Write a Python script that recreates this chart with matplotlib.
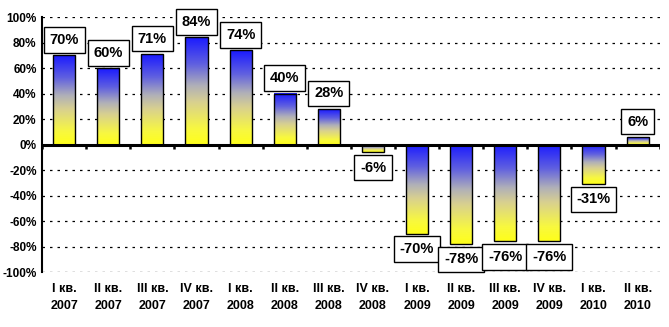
import numpy as np
import matplotlib.pyplot as plt
from matplotlib.colors import LinearSegmentedColormap

plt.rcParams['font.family'] = ['Liberation Sans', 'DejaVu Sans']

# quarterly change, %
quarters = ["I кв.", "II кв.", "III кв.", "IV кв.",
            "I кв.", "II кв.", "III кв.", "IV кв.",
            "I кв.", "II кв.", "III кв.", "IV кв.",
            "I кв.", "II кв."]
years = ["2007", "2007", "2007", "2007",
         "2008", "2008", "2008", "2008",
         "2009", "2009", "2009", "2009",
         "2010", "2010"]
values = [70, 60, 71, 84, 74, 40, 28, -6, -70, -78, -76, -76, -31, 6]
yticks = [-100, -80, -60, -40, -20, 0, 20, 40, 60, 80, 100]

# yellow at the bottom, blue at the top of every bar
grad = LinearSegmentedColormap.from_list(
    "yb", [(0.0, "#ffff1a"), (0.15, "#f8f840"), (0.4, "#d8d090"),
           (0.55, "#b0b0b8"), (0.75, "#6060e0"), (1.0, "#1a1aff")])

fig = plt.figure(figsize=(6.69, 3.27), dpi=100)
ax = fig.add_axes([0.063, 0.168, 0.923, 0.78])

x = np.arange(len(values))
bw = 0.5
ramp = np.linspace(0, 1, 256).reshape(-1, 1)
box = dict(boxstyle="square,pad=0.4", fc="white", ec="black", lw=1)

for xi, v in zip(x, values):
    lo, hi = min(0, v), max(0, v)
    ax.imshow(ramp, cmap=grad, origin="lower", aspect="auto",
              extent=[xi - bw / 2, xi + bw / 2, lo, hi], zorder=2)
    ax.add_patch(plt.Rectangle((xi - bw / 2, lo), bw, hi - lo,
                               fill=False, edgecolor="black", lw=1, zorder=3))
    if v >= 0:
        ax.annotate(f"{v}%", (xi, v), xytext=(0, 6), textcoords="offset points",
                    ha="center", va="bottom", fontsize=10.5, fontweight="bold",
                    bbox=box, zorder=5)
    else:
        ax.annotate(f"{v}%", (xi, v), xytext=(0, -6), textcoords="offset points",
                    ha="center", va="top", fontsize=10.5, fontweight="bold",
                    bbox=box, zorder=5)

ax.set_xlim(-0.5, len(values) - 0.5)
ax.set_ylim(-100, 100)

# dotted grid
for yv in yticks:
    if yv != 0:
        ax.axhline(yv, color="black", lw=0.9, ls=(0, (2, 4)), zorder=1)

# zero line with category ticks
ax.axhline(0, color="black", lw=2.2, zorder=4)
ax.vlines(np.arange(len(values) + 1) - 0.5, -3.5, 0, color="black", lw=1.8, zorder=4)

for s in ["top", "right", "bottom"]:
    ax.spines[s].set_visible(False)
ax.spines["left"].set_linewidth(1.5)

ax.set_yticks(yticks)
ax.set_yticklabels([f"{t}%" for t in yticks], fontsize=8.5, fontweight="bold")
ax.tick_params(axis="y", length=0, pad=4)

ax.set_xticks(x)
ax.set_xticklabels([f"{q}\n{y}" for q, y in zip(quarters, years)],
                   fontsize=9, fontweight="bold", linespacing=1.55)
ax.tick_params(axis="x", length=0, pad=8)

fig.savefig("out.png", dpi=100)
